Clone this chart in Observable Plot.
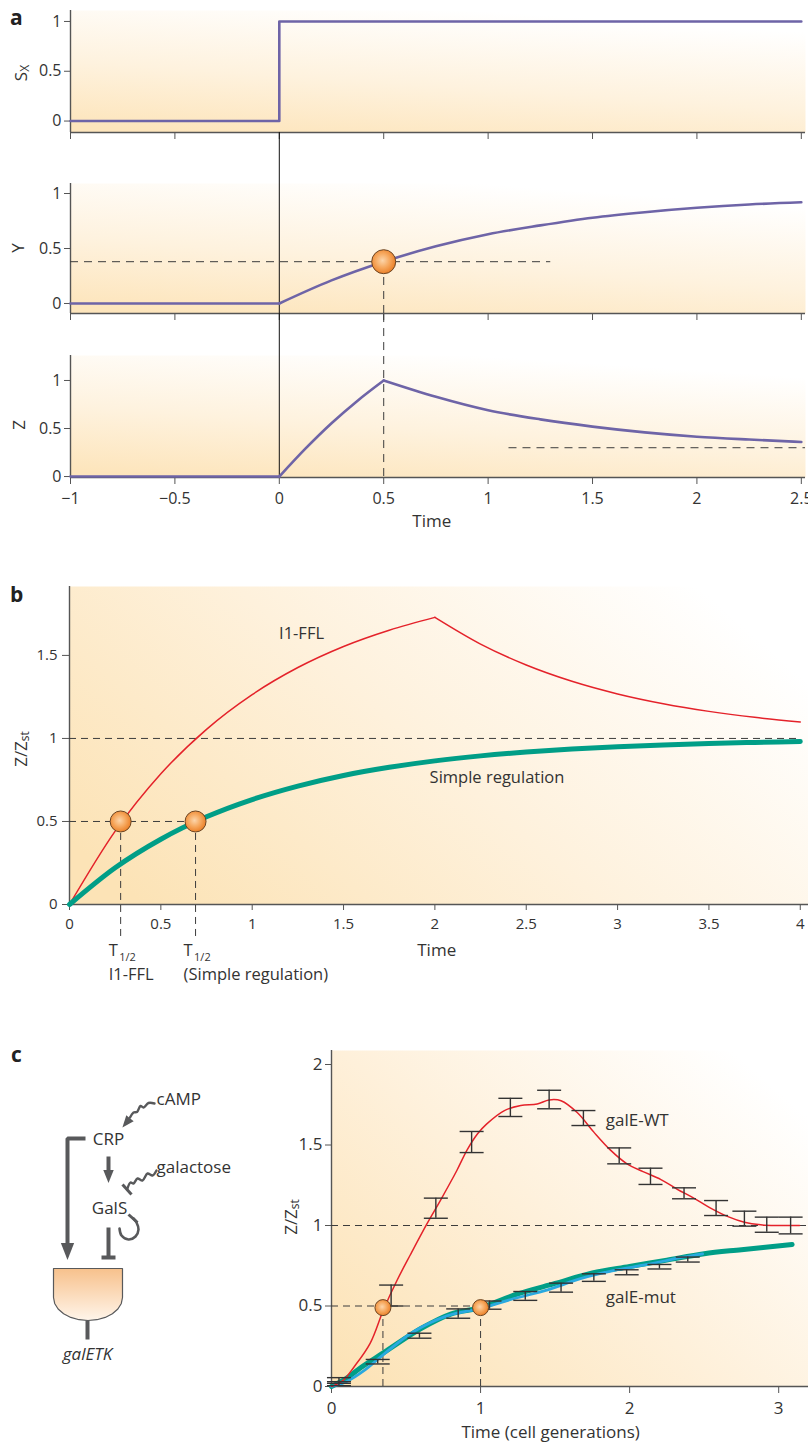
<!DOCTYPE html>
<html>
<head>
<meta charset="utf-8">
<script src="https://cdn.jsdelivr.net/npm/d3@7"></script>
<script src="https://cdn.jsdelivr.net/npm/@observablehq/plot@0.6"></script>
<style>
  html, body { margin: 0; padding: 0; background: #fff; }
  #wrap { position: relative; width: 808px; height: 1448px; overflow: hidden; font-family: "Open Sans", Lato, sans-serif; color: #333; }
  #wrap > svg { position: absolute; }
  .plab { position: absolute; font-family: "Open Sans", Lato, sans-serif; font-weight: 700; font-size: 21px; color: #222; line-height: 1; }
</style>
</head>
<body>
<div id="wrap">
  <div class="plab" style="left:10px;top:7px">a</div>
  <div class="plab" style="left:10px;top:584px">b</div>
  <div class="plab" style="left:11px;top:1044px">c</div>
</div>
<script>
// ---------------- DATA ----------------
// Panel a
const aTicks = [-1, -0.5, 0, 0.5, 1, 1.5, 2, 2.5];
const aYTicks = [0, 0.5, 1];
const sxTime = [-1, 0, 0, 2.5];
const sxValue = [0, 0, 1, 1];
const baseTime = [-1, 0];
const baseValue = [0, 0];
const yTime = [0, 0.25, 0.5, 0.75, 1, 1.25, 1.5, 1.75, 2, 2.25, 2.5];
const yValue = [0, 0.21, 0.38, 0.52, 0.63, 0.71, 0.78, 0.83, 0.87, 0.9, 0.92];
const zRiseTime = [0, 0.125, 0.25, 0.375, 0.5];
const zRiseValue = [0, 0.29, 0.555, 0.79, 1];
const zDecayTime = [0.5, 0.75, 1, 1.25, 1.5, 1.75, 2, 2.25, 2.5];
const zDecayValue = [1, 0.83, 0.69, 0.595, 0.52, 0.46, 0.415, 0.385, 0.36];
const yMarkTime = 0.5;
const yMarkValue = 0.38;
const yDashEnd = 1.3;
const zSteady = 0.3;
const zSteadyStart = 1.1;

// Panel b
const bXTicks = [0, 0.5, 1, 1.5, 2, 2.5, 3, 3.5, 4];
const bYTicks = [0, 0.5, 1, 1.5];
const bTime = [0, 0.25, 0.5, 0.75, 1, 1.25, 1.5, 1.75, 2, 2.25, 2.5, 2.75, 3, 3.25, 3.5, 3.75, 4];
const fflValue = [0, 0.442, 0.787, 1.055, 1.264, 1.427, 1.554, 1.652, 1.729, 1.568, 1.442, 1.344, 1.268, 1.209, 1.163, 1.127, 1.099];
const simpleValue = [0, 0.221, 0.393, 0.528, 0.632, 0.713, 0.777, 0.826, 0.865, 0.895, 0.918, 0.936, 0.95, 0.961, 0.97, 0.976, 0.982];
const fflPeakTime = 2;
const tHalf = [0.28, 0.69];
const tHalfNames = ["I1-FFL", "(Simple regulation)"];
const bCurveLabels = ["I1-FFL", "Simple regulation"];
const bCurveLabelTime = [1.27, 2.34];
const bCurveLabelValue = [1.63, 0.765];

// Panel c
const cXTicks = [0, 1, 2, 3];
const cYTicks = [0, 0.5, 1, 1.5, 2];
const wtTime = [0, 0.08, 0.15, 0.26, 0.35, 0.44, 0.53, 0.64, 0.73, 0.84, 0.91, 0.98, 1.04, 1.16, 1.27, 1.38, 1.46, 1.54, 1.65, 1.76, 1.87, 1.98, 2.09, 2.21, 2.32, 2.43, 2.54, 2.66, 2.77, 2.88, 3.0, 3.14];
const wtValue = [0, 0.04, 0.12, 0.27, 0.48, 0.66, 0.82, 1.01, 1.155, 1.34, 1.47, 1.57, 1.63, 1.714, 1.745, 1.755, 1.78, 1.775, 1.70, 1.58, 1.47, 1.385, 1.335, 1.285, 1.225, 1.17, 1.11, 1.055, 1.02, 1.004, 1.0, 1.0];
const wtBarTime = [0.05, 0.40, 0.70, 0.94, 1.20, 1.46, 1.69, 1.93, 2.14, 2.365, 2.58, 2.77, 2.92, 3.08];
const wtBarLow  = [0.02, 0.50, 1.045, 1.453, 1.677, 1.725, 1.621, 1.383, 1.255, 1.166, 1.062, 0.996, 0.958, 0.948];
const wtBarHigh = [0.055, 0.63, 1.17, 1.584, 1.79, 1.84, 1.714, 1.482, 1.356, 1.234, 1.155, 1.089, 1.052, 1.052];
const mutModelTime = [0, 0.1, 0.2, 0.35, 0.6, 0.8, 1.0, 1.25, 1.5, 1.75, 2.0, 2.25, 2.5, 2.75, 3.09];
const mutModelValue = [0, 0.05, 0.12, 0.21, 0.36, 0.45, 0.49, 0.575, 0.64, 0.705, 0.745, 0.785, 0.825, 0.85, 0.882];
const mutDataTime = [0, 0.1, 0.22, 0.35, 0.55, 0.78, 1.0, 1.22, 1.45, 1.67, 1.89, 2.12, 2.34, 2.49];
const mutDataValue = [0, 0.03, 0.1, 0.2, 0.34, 0.44, 0.485, 0.545, 0.6, 0.67, 0.72, 0.758, 0.8, 0.824];
const mutBarTime = [0.05, 0.31, 0.59, 0.85, 1.06, 1.30, 1.54, 1.76, 1.98, 2.20, 2.39];
const mutBarLow  = [0.005, 0.14, 0.30, 0.424, 0.48, 0.535, 0.586, 0.653, 0.694, 0.73, 0.773];
const mutBarHigh = [0.03, 0.168, 0.331, 0.482, 0.531, 0.59, 0.642, 0.70, 0.725, 0.758, 0.804];
const cHalfTime = [0.345, 1.0];
const cHalfValue = 0.49;
const cLabels = ["galE-WT", "galE-mut"];
const cLabelTime = [1.84, 1.84];
const cLabelValue = [1.65, 0.553];

// Panel c diagram (layout coordinates)
const dgLabels = ["cAMP", "galactose"];
const dgLabelX = [156, 156];
const dgLabelY = [1099, 1167];
const dgNodes = ["CRP", "GalS"];
const dgNodeX = [108, 109];
const dgNodeY = [1139, 1208];
const geneName = "galETK";
const geneNameX = 87, geneNameY = 1354;
const dgThick = [
  [[85,1138],[67,1138],[67,1250]],
  [[108,1156],[108,1176]],
  [[108,1227],[108,1257]],
  [[101,1257],[115,1257]],
  [[87,1320],[87,1339]]
];
const dgThin = [
  [[122,1184],[131,1194]],
  [[128,1214],[137,1222]]
];
const campWave = [[154,1103],[148,1102.5],[143,1107],[140,1105.5],[136.5,1111.5],[133,1112],[129.5,1117]];
const galWave = [[156,1170],[152,1175],[147,1173],[142,1180],[137,1178],[133,1183],[130,1182],[127,1188]];
const selfLoop = [[119,1228],[121,1235],[128,1239],[135,1236],[138,1229],[136,1222],[133,1218]];

// ---------------- HELPERS ----------------
const PURPLE = "#6e64a7", RED = "#e4222a", TEAL = "#009e87", BLUE = "#2aa9df";
const AXIS = "#555", DASH = "#3c3c3c", INK = "#333", DG = "#58595b";
const FONT = "'Open Sans', Lato, 'DejaVu Sans', sans-serif";
const baseStyle = {fontFamily: FONT, fontSize: "16px", color: INK, background: "transparent", overflow: "visible"};
const wrap = document.getElementById("wrap");
function place(svg, left, top) { svg.style.left = left + "px"; svg.style.top = top + "px"; wrap.appendChild(svg); return svg; }
function defsOf(svg) { const s = d3.select(svg); let d = s.select("defs"); if (d.empty()) d = s.insert("defs", ":first-child"); return d; }
function linGrad(svg, id, v, stops) {
  const g = defsOf(svg).append("linearGradient").attr("id", id).attr("x1", v[0]).attr("y1", v[1]).attr("x2", v[2]).attr("y2", v[3]);
  stops.forEach(([o, c]) => g.append("stop").attr("offset", o).attr("stop-color", c));
}
function orbGrad(svg, id) {
  const g = defsOf(svg).append("radialGradient").attr("id", id).attr("cx", "0.45").attr("cy", "0.45").attr("r", "0.6");
  [[0, "#fcd5aa"], [0.5, "#f6a85e"], [1, "#e9791f"]].forEach(([o, c]) => g.append("stop").attr("offset", o).attr("stop-color", c));
}
function rotLabel(svg, x, y, main, sub, size) {
  const t = d3.select(svg).append("text").attr("transform", `translate(${x},${y}) rotate(-90)`)
    .attr("text-anchor", "middle").attr("dominant-baseline", "central")
    .attr("font-size", size).attr("fill", INK).attr("font-family", FONT);
  t.append("tspan").text(main);
  if (sub) t.append("tspan").attr("font-size", Math.round(size * 0.68)).attr("dy", "0.35em").text(sub);
}
const rows = (xs, ys) => xs.map((x, i) => ({x, y: ys[i]}));
const fmt = d => (d < 0 ? "\u2212" : "") + Math.abs(d);
const capSymbol = {draw(ctx, size) { const r = Math.sqrt(size / Math.PI); ctx.moveTo(-r, 0); ctx.lineTo(r, 0); }};
const headSymbol = {draw(ctx, size) { const r = Math.sqrt(size / Math.PI); ctx.moveTo(0, 1.2 * r); ctx.lineTo(-0.95 * r, -1.2 * r); ctx.lineTo(0.95 * r, -1.2 * r); ctx.closePath(); }};
const gradA = [[0, "#fde5bc"], [0.45, "#fef2de"], [1, "#ffffff"]];
const dashed = {stroke: DASH, strokeWidth: 1, strokeDasharray: "8,6"};

// ---------------- PANEL a : Sx ----------------
const pSx = Plot.plot({
  width: 808, height: 142, marginTop: 10, marginBottom: 10, marginLeft: 70, marginRight: 3,
  style: baseStyle,
  x: {domain: [-1, 2.52], label: null},
  y: {domain: [-0.115, 1.11], label: null},
  marks: [
    Plot.frame({fill: "url(#bgA1)", stroke: "none"}),
    Plot.axisY({ticks: aYTicks, tickFormat: fmt, tickSize: 6, tickPadding: 3, stroke: AXIS, fontSize: 16, label: null}),
    Plot.axisX({ticks: aTicks, tickFormat: () => "", tickSize: 7, stroke: AXIS, label: null}),
    Plot.ruleX([-1], {stroke: AXIS, strokeWidth: 1.4}),
    Plot.ruleY([-0.115], {stroke: AXIS, strokeWidth: 1.4}),
    Plot.line(rows(sxTime, sxValue), {x: "x", y: "y", stroke: PURPLE, strokeWidth: 2.6})
  ]
});
linGrad(pSx, "bgA1", ["0.15", "1", "0.55", "0"], gradA);
rotLabel(pSx, 20, 73, "S", "X", 17);
place(pSx, 0, 0);

// ---------------- PANEL a : Y ----------------
const pY = Plot.plot({
  width: 808, height: 191, marginTop: 51, marginBottom: 10, marginLeft: 70, marginRight: 3,
  style: baseStyle,
  x: {domain: [-1, 2.52], label: null},
  y: {domain: [-0.091, 1.091], label: null},
  marks: [
    Plot.frame({fill: "url(#bgA2)", stroke: "none"}),
    Plot.axisY({ticks: aYTicks, tickFormat: fmt, tickSize: 6, tickPadding: 3, stroke: AXIS, fontSize: 16, label: null}),
    Plot.axisX({ticks: aTicks, tickFormat: () => "", tickSize: 7, stroke: AXIS, label: null}),
    Plot.ruleX([-1], {stroke: AXIS, strokeWidth: 1.4}),
    Plot.ruleY([-0.091], {stroke: AXIS, strokeWidth: 1.4}),
    Plot.ruleY([yMarkValue], {x1: -1, x2: yDashEnd, ...dashed}),
    Plot.ruleX([yMarkTime], {y1: -0.091, y2: yMarkValue, ...dashed}),
    Plot.ruleX([0], {y1: -0.091, y2: 1.555, stroke: "#111", strokeWidth: 1}),
    Plot.line(rows(baseTime, baseValue), {x: "x", y: "y", stroke: PURPLE, strokeWidth: 2.6}),
    Plot.line(rows(yTime, yValue), {x: "x", y: "y", stroke: PURPLE, strokeWidth: 2.6, curve: "monotone-x"}),
    Plot.dot([yMarkTime], {x: d => d, y: yMarkValue, r: 12, fill: "url(#orbA)", stroke: "#6b4422", strokeWidth: 1})
  ]
});
linGrad(pY, "bgA2", ["0.15", "1", "0.55", "0"], gradA);
orbGrad(pY, "orbA");
rotLabel(pY, 17, 116, "Y", null, 17);
place(pY, 0, 132);

// ---------------- PANEL a : Z ----------------
const pZ = Plot.plot({
  width: 808, height: 224, marginTop: 42, marginBottom: 60, marginLeft: 70, marginRight: 3,
  style: baseStyle,
  x: {domain: [-1, 2.52], label: null},
  y: {domain: [-0.01, 1.26], label: null},
  marks: [
    Plot.frame({fill: "url(#bgA3)", stroke: "none"}),
    Plot.axisY({ticks: aYTicks, tickFormat: fmt, tickSize: 6, tickPadding: 3, stroke: AXIS, fontSize: 16, label: null}),
    Plot.axisX({ticks: aTicks, tickFormat: fmt, tickSize: 7, tickPadding: 8, stroke: AXIS, fontSize: 16, label: null}),
    Plot.ruleX([-1], {stroke: AXIS, strokeWidth: 1.4}),
    Plot.ruleY([-0.01], {stroke: AXIS, strokeWidth: 1.4}),
    Plot.ruleY([zSteady], {x1: zSteadyStart, x2: 2.52, ...dashed}),
    Plot.ruleX([yMarkTime], {y1: 0, y2: 1.697, ...dashed}),
    Plot.ruleX([0], {y1: 0, y2: 1.697, stroke: "#111", strokeWidth: 1}),
    Plot.line(rows(baseTime, baseValue), {x: "x", y: "y", stroke: PURPLE, strokeWidth: 2.6}),
    Plot.line(rows(zRiseTime, zRiseValue), {x: "x", y: "y", stroke: PURPLE, strokeWidth: 2.6, curve: "monotone-x"}),
    Plot.line(rows(zDecayTime, zDecayValue), {x: "x", y: "y", stroke: PURPLE, strokeWidth: 2.6, curve: "monotone-x"}),
    Plot.text(["Time"], {x: () => 0.73, frameAnchor: "bottom", dy: 49, fontSize: 17, fill: INK})
  ]
});
linGrad(pZ, "bgA3", ["0.15", "1", "0.55", "0"], gradA);
rotLabel(pZ, 18, 112, "Z", null, 17);
place(pZ, 0, 313);

// ---------------- PANEL b ----------------
const bRows = rows(bTime, fflValue);
const pB = Plot.plot({
  width: 808, height: 413, marginTop: 10, marginBottom: 85, marginLeft: 69, marginRight: 0,
  style: baseStyle,
  x: {domain: [0, 4.045], label: null},
  y: {domain: [0, 1.915], label: null},
  marks: [
    Plot.frame({fill: "url(#bgB)", stroke: "none"}),
    Plot.axisY({ticks: bYTicks, tickFormat: fmt, tickSize: 7, tickPadding: 5, stroke: AXIS, fontSize: 15, label: null}),
    Plot.axisX({ticks: bXTicks, tickFormat: fmt, tickSize: 6, tickPadding: 8, stroke: AXIS, fontSize: 15, label: null}),
    Plot.ruleX([0], {stroke: AXIS, strokeWidth: 1.4}),
    Plot.ruleY([0], {stroke: AXIS, strokeWidth: 1.4}),
    Plot.ruleY([1], {x1: 0, x2: 4, ...dashed, strokeDasharray: "7,5"}),
    Plot.ruleY([0.5], {x1: 0, x2: tHalf[1], ...dashed, strokeDasharray: "7,5"}),
    Plot.ruleX(tHalf, {x: d => d, y1: 0.5, y2: -0.22, ...dashed, strokeDasharray: "7,5"}),
    Plot.line(bRows.filter(d => d.x <= fflPeakTime), {x: "x", y: "y", stroke: RED, strokeWidth: 1.5, curve: "monotone-x"}),
    Plot.line(bRows.filter(d => d.x >= fflPeakTime), {x: "x", y: "y", stroke: RED, strokeWidth: 1.5, curve: "monotone-x"}),
    Plot.line(rows(bTime, simpleValue), {x: "x", y: "y", stroke: TEAL, strokeWidth: 5, curve: "monotone-x"}),
    Plot.dot(tHalf, {x: d => d, y: 0.5, r: 10.5, fill: "url(#orbB)", stroke: "#6b4422", strokeWidth: 1}),
    Plot.text(bCurveLabels, {x: (d, i) => bCurveLabelTime[i], y: (d, i) => bCurveLabelValue[i], text: d => d, fontSize: 16.5, fill: INK}),
    Plot.text(tHalf, {x: d => d, text: () => "T", frameAnchor: "bottom", textAnchor: "start", dx: -12, dy: 51, fontSize: 16.5, fill: INK}),
    Plot.text(tHalf, {x: d => d, text: () => "1/2", frameAnchor: "bottom", textAnchor: "start", dx: -1.5, dy: 56, fontSize: 11, fill: INK}),
    Plot.text(tHalfNames, {x: (d, i) => tHalf[i], text: d => d, frameAnchor: "bottom", textAnchor: "start", dx: -12, dy: 75, fontSize: 16.5, fill: INK}),
    Plot.text(["Time"], {x: () => 2.01, frameAnchor: "bottom", dy: 51, fontSize: 17, fill: INK})
  ]
});
linGrad(pB, "bgB", ["0", "0.8", "1", "0.3"], [[0, "#fce3b6"], [0.5, "#fef1dc"], [1, "#ffffff"]]);
orbGrad(pB, "orbB");
rotLabel(pB, 20, 173, "Z/Z", "st", 17);
place(pB, 0, 576);

// ---------------- PANEL c chart ----------------
const wtBars = wtBarTime.map((t, i) => ({t, lo: wtBarLow[i], hi: wtBarHigh[i]}));
const mutBars = mutBarTime.map((t, i) => ({t, lo: mutBarLow[i], hi: mutBarHigh[i]}));
const bars = wtBars.concat(mutBars);
const pC = Plot.plot({
  width: 808, height: 408, marginTop: 10, marginBottom: 62, marginLeft: 331, marginRight: 0,
  style: baseStyle,
  x: {domain: [0, 3.2], label: null},
  y: {domain: [0, 2.087], label: null},
  marks: [
    Plot.frame({fill: "url(#bgC)", stroke: "none"}),
    Plot.axisY({ticks: cYTicks, tickFormat: fmt, tickSize: 6, tickPadding: 3, stroke: AXIS, fontSize: 17, label: null}),
    Plot.axisX({ticks: cXTicks, tickFormat: fmt, tickSize: 7, tickPadding: 8, stroke: AXIS, fontSize: 17, label: null}),
    Plot.ruleX([0], {stroke: AXIS, strokeWidth: 1.4}),
    Plot.ruleY([0], {stroke: AXIS, strokeWidth: 1.4}),
    Plot.ruleY([1], {x1: 0, x2: 3.2, ...dashed, strokeDasharray: "7,5"}),
    Plot.ruleY([0.5], {x1: 0, x2: cHalfTime[1], ...dashed, strokeDasharray: "7,5"}),
    Plot.ruleX(cHalfTime, {x: d => d, y1: 0, y2: cHalfValue, ...dashed, strokeDasharray: "7,5"}),
    Plot.line(rows(mutModelTime, mutModelValue), {x: "x", y: "y", stroke: TEAL, strokeWidth: 5, curve: "catmull-rom"}),
    Plot.line(rows(mutDataTime, mutDataValue), {x: "x", y: "y", stroke: BLUE, strokeWidth: 2.8, curve: "catmull-rom"}),
    Plot.line(rows(wtTime, wtValue), {x: "x", y: "y", stroke: RED, strokeWidth: 1.5, curve: "catmull-rom"}),
    Plot.ruleX(bars, {x: "t", y1: "lo", y2: "hi", stroke: "#333", strokeWidth: 1.4}),
    Plot.dot(bars, {x: "t", y: "lo", symbol: capSymbol, r: 12, fill: "none", stroke: "#333", strokeWidth: 1.4}),
    Plot.dot(bars, {x: "t", y: "hi", symbol: capSymbol, r: 12, fill: "none", stroke: "#333", strokeWidth: 1.4}),
    Plot.dot(cHalfTime, {x: d => d, y: cHalfValue, r: 8, fill: "url(#orbC)", stroke: "#6b4422", strokeWidth: 1}),
    Plot.text(cLabels, {x: (d, i) => cLabelTime[i], y: (d, i) => cLabelValue[i], text: d => d, textAnchor: "start", fontSize: 17, fill: INK}),
    Plot.text(["Time (cell generations)"], {x: () => 1.47, frameAnchor: "bottom", dy: 51, fontSize: 17, fill: INK})
  ]
});
linGrad(pC, "bgC", ["0", "1", "1", "0.2"], [[0, "#fce2b4"], [0.5, "#fef0da"], [1, "#ffffff"]]);
orbGrad(pC, "orbC");
rotLabel(pC, 290, 177, "Z/Z", "st", 17);
place(pC, 0, 1040);

// ---------------- PANEL c diagram ----------------
const geneOutline = [[53,1268],[122,1268],[122,1297]]
  .concat(d3.range(0, 181, 15).map(a => [87.5 + 34.5 * Math.cos(a * Math.PI / 180), 1297 + 23 * Math.sin(a * Math.PI / 180)]))
  .concat([[53,1268]]);
const px = d => d[0], py = d => d[1];
const pD = Plot.plot({
  width: 280, height: 360, marginTop: 0, marginBottom: 0, marginLeft: 0, marginRight: 0,
  style: {...baseStyle, fontSize: "17px"},
  x: {domain: [0, 280], range: [0, 280], axis: null},
  y: {domain: [1020, 1380], range: [0, 360], axis: null},
  marks: [
    Plot.line(geneOutline, {x: px, y: py, fill: "url(#geneGrad)", stroke: DG, strokeWidth: 1.2, strokeLinejoin: "miter"}),
    ...dgThick.map(p => Plot.line(p, {x: px, y: py, stroke: DG, strokeWidth: 4, strokeLinecap: "butt", strokeLinejoin: "miter"})),
    ...dgThin.map(p => Plot.line(p, {x: px, y: py, stroke: DG, strokeWidth: 3, strokeLinecap: "butt"})),
    Plot.line(campWave, {x: px, y: py, stroke: DG, strokeWidth: 2.4, curve: "catmull-rom"}),
    Plot.line(galWave, {x: px, y: py, stroke: DG, strokeWidth: 2.4, curve: "catmull-rom"}),
    Plot.line(selfLoop, {x: px, y: py, stroke: DG, strokeWidth: 2.6, curve: "catmull-rom"}),
    Plot.dot([[67, 1251]], {x: px, y: py, symbol: headSymbol, r: 7, fill: DG, stroke: "none"}),
    Plot.dot([[108, 1176]], {x: px, y: py, symbol: headSymbol, r: 5.5, fill: DG, stroke: "none"}),
    Plot.dot([[125.7, 1122.3]], {x: px, y: py, symbol: headSymbol, r: 5, rotate: 39, fill: DG, stroke: "none"}),
    Plot.text(dgLabels, {x: (d, i) => dgLabelX[i], y: (d, i) => dgLabelY[i], text: d => d, textAnchor: "start", fontSize: 17, fill: INK}),
    Plot.text(dgNodes, {x: (d, i) => dgNodeX[i], y: (d, i) => dgNodeY[i], text: d => d, textAnchor: "middle", fontSize: 17, fill: INK}),
    Plot.text([geneName], {x: () => geneNameX, y: () => geneNameY, text: d => d, fontSize: 17, fontStyle: "italic", fill: INK})
  ]
});
linGrad(pD, "geneGrad", ["0", "0", "0", "1"], [[0, "#f7c18c"], [1, "#fff5ea"]]);
place(pD, 0, 1020);
</script>
</body>
</html>
